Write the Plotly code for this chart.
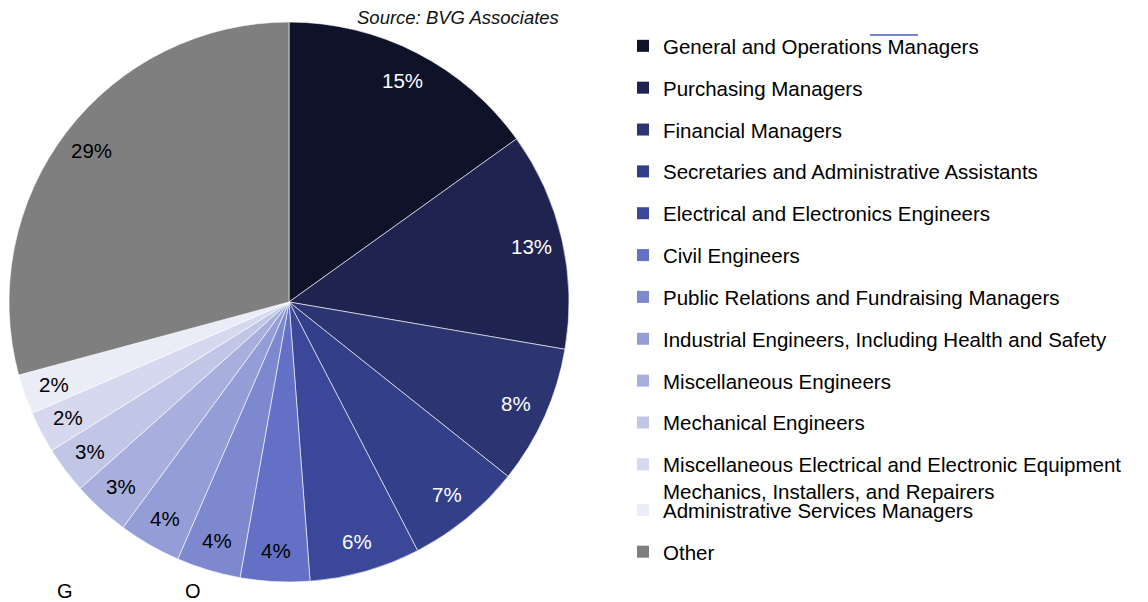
import math
import plotly.graph_objects as go

categories = [
    "General and Operations Managers",
    "Purchasing Managers",
    "Financial Managers",
    "Secretaries and Administrative Assistants",
    "Electrical and Electronics Engineers",
    "Civil Engineers",
    "Public Relations and Fundraising Managers",
    "Industrial Engineers, Including Health and Safety",
    "Miscellaneous Engineers",
    "Mechanical Engineers",
    "Miscellaneous Electrical and Electronic Equipment<br>Mechanics, Installers, and Repairers",
    "Administrative Services Managers",
    "Other",
]
values = [15.1, 12.6, 8.0, 6.7, 6.4, 4.0, 3.7, 3.6, 3.3, 2.7, 2.4, 2.3, 29.2]
colors = ["#0f1329", "#1f2350", "#2c3571", "#333f89", "#3b489a", "#6370c5",
          "#7e88cf", "#949dd6", "#a9afdd", "#c2c6e6", "#d5d8ee", "#eaecf7", "#7f7f7f"]
label_colors = ["white"] * 5 + ["black"] * 8

W, H = 1148, 602
cx, cy, R = 289, 302, 280
FONT = "Liberation Sans, Arial, sans-serif"

fig = go.Figure()
fig.add_trace(go.Pie(
    labels=categories, values=values, sort=False, direction="clockwise", rotation=0,
    marker=dict(colors=colors, line=dict(color="white", width=0.6)),
    textinfo="none", hoverinfo="label+percent", showlegend=False,
    domain=dict(x=[(cx - R) / W, (cx + R) / W], y=[(H - cy - R) / H, (H - cy + R) / H]),
))

# legend entries (last two entries go in a second legend box, as in the reference)
for i, (c, col) in enumerate(zip(categories, colors)):
    fig.add_trace(go.Scatter(
        x=[None], y=[None], mode="markers", name=c, legendgroup=f"g{i}",
        legend="legend" if i < 11 else "legend2",
        marker=dict(symbol="square", size=12, color=col), hoverinfo="skip",
    ))

# percentage labels
total = sum(values)
cum = 0.0
annotations = []
for v, lc in zip(values, label_colors):
    mid = (cum + v / 2) / total * 2 * math.pi
    cum += v
    px = cx + 0.89 * R * math.sin(mid)
    py = cy - 0.89 * R * math.cos(mid)
    annotations.append(dict(
        x=px / W, y=1 - py / H, xref="paper", yref="paper", showarrow=False,
        text=f"{round(v / total * 100)}%", font=dict(family=FONT, size=20.5, color=lc),
        xanchor="center", yanchor="middle",
    ))

annotations.append(dict(
    x=458 / W, y=1 - 18 / H, xref="paper", yref="paper", showarrow=False,
    text="Source: BVG Associates", font=dict(family=FONT, size=18.5, color="#111111", style="italic"),
    xanchor="center", yanchor="middle",
))
for t, xx in [("G", 65), ("O", 193)]:
    annotations.append(dict(
        x=xx / W, y=1 - 591 / H, xref="paper", yref="paper", showarrow=False,
        text=t, font=dict(family=FONT, size=20, color="black"),
        xanchor="center", yanchor="middle",
    ))

legend_common = dict(
    xanchor="left", yanchor="top",
    font=dict(family=FONT, size=20.5, color="black"),
    tracegroupgap=12.2, itemclick=False, itemdoubleclick=False,
    bgcolor="rgba(0,0,0,0)", valign="top",
)

fig.update_layout(
    width=W, height=H,
    margin=dict(l=0, r=0, t=0, b=0),
    paper_bgcolor="white", plot_bgcolor="white",
    xaxis=dict(visible=False), yaxis=dict(visible=False),
    showlegend=True,
    legend=dict(x=623 / W, y=1 - 26 / H, **legend_common),
    legend2=dict(x=623 / W, y=1 - 490 / H, **legend_common),
    annotations=annotations,
    shapes=[dict(type="line", xref="paper", yref="paper",
                 x0=870 / W, x1=918 / W, y0=1 - 35 / H, y1=1 - 35 / H,
                 line=dict(color="#4a58c0", width=1.5))],
)

fig.write_html("out.html", config={"displayModeBar": False},
               post_script="document.body.style.margin='0';")
